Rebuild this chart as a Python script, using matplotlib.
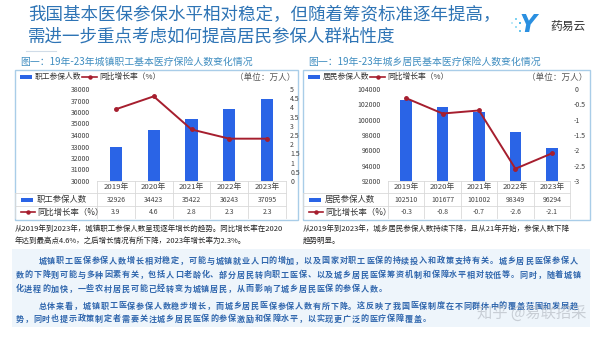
import matplotlib
matplotlib.use("Agg")
import matplotlib.pyplot as plt
from matplotlib.patches import Rectangle

plt.rcParams['font.family'] = ['Noto Sans CJK SC', 'DejaVu Sans']

# ---- data ----
years = ['2019年', '2020年', '2021年', '2022年', '2023年']
worker_insured = [32926, 34423, 35422, 36243, 37095]
worker_growth = [3.9, 4.6, 2.8, 2.3, 2.3]
resident_insured = [102510, 101677, 101002, 98349, 96294]
resident_growth = [-0.3, -0.8, -0.7, -2.6, -2.1]

worker_ticks = [30000, 31000, 32000, 33000, 34000, 35000, 36000, 37000, 38000]
worker_rate_ticks = [0, 0.5, 1, 1.5, 2, 2.5, 3, 3.5, 4, 4.5, 5]
resident_ticks = [92000, 94000, 96000, 98000, 100000, 102000, 104000]
resident_rate_ticks = [-3, -2.5, -2, -1.5, -1, -0.5, 0]

BAR = '#2A64E6'
LINE = '#A61E2E'
TITLE = '#2E74B5'
SUB = '#3F8DC0'
BORDER = '#A9CDE8'
GRID = '#D9D9D9'
BODY = '#2F66AD'
TICK = '#404040'

W, H = 600, 337
fig = plt.figure(figsize=(W / 100, H / 100), dpi=100)
fig.patch.set_facecolor('white')

# full-figure overlay in pixel units for decoration and text
ov = fig.add_axes([0, 0, 1, 1])
ov.set_xlim(0, W)
ov.set_ylim(H, 0)
ov.axis('off')


def fmt(v):
    return '%g' % v


# ---- headline ----
ov.text(28, 15, '我国基本医保参保水平相对稳定，但随着筹资标准逐年提高，',
        fontsize=12.6, color=TITLE, va='center', ha='left')
ov.text(28, 37, '需进一步重点考虑如何提高居民参保人群粘性度',
        fontsize=12.6, color=TITLE, va='center', ha='left')
ov.plot([26, 56], [51, 51], color='#D0DCE8', lw=0.8)

# logo
ov.text(528, 25, 'Y', fontsize=17, color='#2A8FE0', fontweight='bold',
        style='italic', va='center', ha='center', family='DejaVu Sans')
for dx, dy, c in [(-12, -6, '#7FD3F2'), (-8, -2, '#4FB8EC'), (-12, 2, '#9FE0F5'),
                  (-16, -2, '#BFEAF8'), (-8, 6, '#6CC6EF'), (-4, -8, '#5BBDEE')]:
    ov.add_patch(Rectangle((528 + dx - 1.4, 25 + dy - 1.4), 2.8, 2.8, color=c, lw=0))
ov.text(550, 26, '药易云', fontsize=8.5, color='#333333', va='center', ha='left')


def panel(x0, x1, plot_l, plot_r, subtitle, bar_label, bars, rates,
          lticks, rticks, desc):
    top, bottom = 70, 220
    ov.text(x0 + 5, 62, subtitle, fontsize=7.1, color=SUB, va='center', ha='left')
    ov.add_patch(Rectangle((x0, top), x1 - x0, bottom - top, fill=False,
                           ec=BORDER, lw=1.0))
    # legend
    ov.add_patch(Rectangle((x0 + 5, 74.5), 12, 4, color=BAR, lw=0))
    ov.text(x0 + 20, 77, bar_label, fontsize=5.6, color='#333333', va='center')
    ov.plot([x0 + 67, x0 + 82], [77, 77], color=LINE, lw=1.2)
    ov.plot([x0 + 74.5], [77], 'o', color=LINE, ms=2.2)
    ov.text(x0 + 84, 77, '同比增长率（%）', fontsize=5.6, color='#333333', va='center')
    ov.text(x1 - 3, 77, '（单位：万人）', fontsize=6.2, color='#555555',
            va='center', ha='right')

    # chart
    ax = fig.add_axes([plot_l / W, 1 - 181 / H, (plot_r - plot_l) / W, 92 / H])
    ax.patch.set_alpha(0)
    xs = list(range(len(years)))
    ax.bar(xs, bars, width=0.32, color=BAR, zorder=2)
    ax.set_xlim(-0.5, len(years) - 0.5)
    ax.set_ylim(lticks[0], lticks[-1])
    ax.set_yticks(lticks)
    ax.set_yticklabels([str(t) for t in lticks])
    ax.set_xticks([])
    for s in ax.spines.values():
        s.set_visible(False)
    ax.tick_params(axis='y', length=0, labelsize=5, labelcolor=TICK, pad=5)
    ax2 = ax.twinx()
    ax2.plot(xs, rates, color=LINE, lw=1.4, marker='o', ms=2.5, zorder=3)
    ax2.set_ylim(rticks[0], rticks[-1])
    ax2.set_yticks(rticks)
    ax2.set_yticklabels([fmt(t) for t in rticks])
    for s in ax2.spines.values():
        s.set_visible(False)
    ax2.tick_params(axis='y', length=0, labelsize=5, labelcolor=TICK, pad=3)

    # data table
    step = (plot_r - plot_l) / len(years)
    rows = [181, 193, 206, 218]
    ov.plot([plot_l, plot_r], [rows[0], rows[0]], color=GRID, lw=0.6)
    for y in rows[1:3]:
        ov.plot([x0, plot_r], [y, y], color=GRID, lw=0.6)
    for i in range(len(years) + 1):
        xx = plot_l + i * step
        ov.plot([xx, xx], [rows[0], rows[3]], color=GRID, lw=0.6)
    ov.plot([x0, x0], [rows[1], rows[3]], color=GRID, lw=0.6)
    for i, yr in enumerate(years):
        cx = plot_l + (i + 0.5) * step
        ov.text(cx, 187, yr, fontsize=5.6, color='#444444', ha='center', va='center')
        ov.text(cx, 199.5, str(bars[i]), fontsize=5, color='#444444',
                ha='center', va='center')
        ov.text(cx, 212, fmt(rates[i]), fontsize=5, color='#444444',
                ha='center', va='center')
    ov.add_patch(Rectangle((x0 + 6, 197.5), 12, 4, color=BAR, lw=0))
    ov.text(x0 + 22, 199.5, bar_label, fontsize=6, color='#333333', va='center')
    ov.plot([x0 + 6, x0 + 20], [212, 212], color=LINE, lw=1.2)
    ov.plot([x0 + 13], [212], 'o', color=LINE, ms=2.2)
    ov.text(x0 + 22, 212, '同比增长率（%）', fontsize=6, color='#333333', va='center')

    for k, line in enumerate(desc):
        ov.text(x0, 229 + k * 12, line, fontsize=5.4, color='#222222',
                va='center', ha='left')


panel(15, 298, 97, 286, '图一：19年-23年城镇职工基本医疗保险人数变化情况',
      '职工参保人数', worker_insured, worker_growth, worker_ticks, worker_rate_ticks,
      ['从2019年到2023年，城镇职工参保人数呈现逐年增长的趋势。同比增长率在2020',
       '年达到最高点4.6%，之后增长情况有所下降，2023年增长率为2.3%。'])
panel(303, 590, 388, 570, '图一：19年-23年城乡居民基本医疗保险人数变化情况',
      '居民参保人数', resident_insured, resident_growth, resident_ticks,
      resident_rate_ticks,
      ['从2019年到2023年，城乡居民参保人数持续下降，且从21年开始，参保人数下降',
       '趋势明显。'])

# ---- commentary block ----
ov.add_patch(Rectangle((12, 249), 578, 78, color='#EEF5FB', lw=0))
paragraph_lines = [
    (38, 261, '城镇职工医保参保人数增长相对稳定，可能与城镇就业人口的增加，以及国家对职工医保的持续投入和政策支持有关。城乡居民医保参保人'),
    (15, 275, '数的下降则可能与多种因素有关，包括人口老龄化、部分居民转向职工医保、以及城乡居民医保筹资机制和保障水平相对较低等。同时，随着城镇'),
    (15, 289, '化进程的加快，一些农村居民可能已经转变为城镇居民，从而影响了城乡居民医保的参保人数。'),
    (38, 306, '总体来看，城镇职工医保参保人数稳步增长，而城乡居民医保参保人数有所下降。这反映了我国医保制度在不同群体中的覆盖范围和发展趋'),
    (15, 319, '势，同时也提示政策制定者需要关注城乡居民医保的参保激励和保障水平，以实现更广泛的医疗保障覆盖。'),
]
pitch = 8.85
for x_start, y, line in paragraph_lines:
    for i, ch in enumerate(line):
        ov.text(x_start + i * pitch + pitch / 2, y, ch, fontsize=5.8, color=BODY,
                fontweight='bold', ha='center', va='center')

ov.text(532, 313, '知乎 @易联招采', fontsize=11, color='#B8BEC6', alpha=0.7,
        ha='center', va='center')

fig.savefig('out.png', dpi=100, facecolor='white')
